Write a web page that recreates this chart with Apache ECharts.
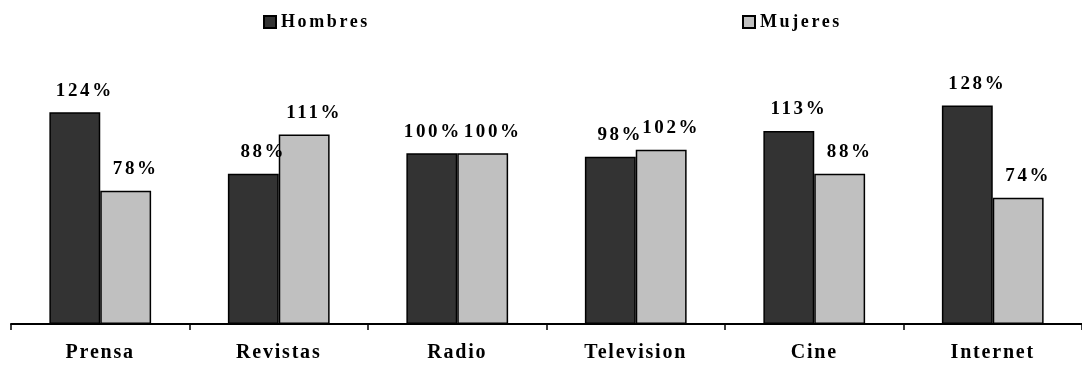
<!DOCTYPE html>
<html>
<head>
<meta charset="utf-8">
<script src="https://cdn.jsdelivr.net/npm/echarts@6/dist/echarts.min.js"></script>
<style>
  html, body { margin: 0; padding: 0; background: #ffffff; }
  #chart { width: 1082px; height: 367px; }
</style>
</head>
<body>
<div id="chart"></div>
<script>
// Media consumption index by sex (100% = average)
const categories = ['Prensa', 'Revistas', 'Radio', 'Television', 'Cine', 'Internet'];
const hombres = [124, 88, 100, 98, 113, 128];
const mujeres = [78, 111, 100, 102, 88, 74];
const seriesNames = ['Hombres', 'Mujeres'];

const FONT = '"Liberation Serif", "Times New Roman", serif';
const AXIS_FONT_SIZE = 20;

// wide tracking for text drawn on the chart canvas (a little tighter on the axis labels)
(function () {
  const proto = CanvasRenderingContext2D.prototype;
  const fill = proto.fillText;
  proto.fillText = function () {
    if ('letterSpacing' in this) {
      const m = /(\d+)px/.exec(this.font);
      const size = m ? +m[1] : 0;
      this.letterSpacing = size === AXIS_FONT_SIZE ? '1.8px' : '2.6px';
    }
    return fill.apply(this, arguments);
  };
})();

const chart = echarts.init(document.getElementById('chart'));

const labelStyle = {
  show: true,
  position: 'top',
  distance: 12,
  offset: [10, 0],
  formatter: p => p.value + '%',
  fontFamily: FONT,
  fontWeight: 'bold',
  fontSize: 19,
  color: '#000'
};

// when both bars of a category are equal, keep the left label over its own bar so the two don't collide
const hombresData = hombres.map((v, i) =>
  v === mujeres[i] ? { value: v, label: { offset: [1, 0] } } : v
);

const legendBase = {
  top: 8,
  icon: 'rect',
  itemWidth: 12,
  itemHeight: 12,
  itemGap: 10,
  textStyle: { fontFamily: FONT, fontWeight: 'bold', fontSize: 18, color: '#000' }
};

chart.setOption({
  animation: false,
  legend: [
    Object.assign({}, legendBase, { left: 258, data: [seriesNames[0]] }),
    Object.assign({}, legendBase, { left: 737, data: [seriesNames[1]] })
  ],
  grid: { left: 11, width: 1080, top: 85, bottom: 43, containLabel: false },
  xAxis: {
    type: 'category',
    data: categories,
    axisLine: { lineStyle: { color: '#000', width: 2 } },
    axisTick: { show: true, length: 6, lineStyle: { color: '#000', width: 1.5 } },
    axisLabel: {
      margin: 19,
      fontFamily: FONT,
      fontWeight: 'bold',
      fontSize: AXIS_FONT_SIZE,
      color: '#000'
    }
  },
  yAxis: {
    type: 'value',
    min: 0,
    max: 140,
    show: false,
    splitLine: { show: false }
  },
  series: [
    {
      name: seriesNames[0],
      type: 'bar',
      data: hombresData,
      barGap: '0%',
      barCategoryGap: '43%',
      itemStyle: { color: '#333333', borderColor: '#000', borderWidth: 1.5 },
      label: labelStyle
    },
    {
      name: seriesNames[1],
      type: 'bar',
      data: mujeres,
      barGap: '0%',
      barCategoryGap: '43%',
      itemStyle: { color: '#c0c0c0', borderColor: '#000', borderWidth: 1.5 },
      label: labelStyle
    }
  ]
});
</script>
</body>
</html>
